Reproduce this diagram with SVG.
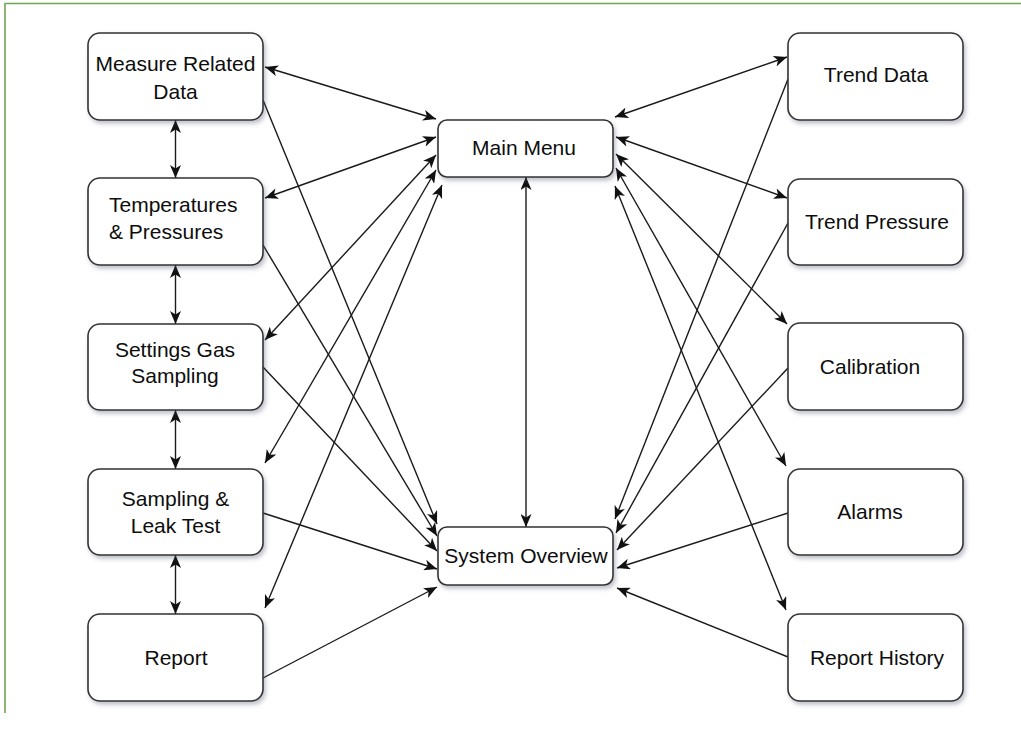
<svg xmlns="http://www.w3.org/2000/svg" width="1021" height="731" viewBox="0 0 1021 731">
<style>
.box{fill:#fff;stroke:#333;stroke-width:1.6;filter:url(#sh)}
.t{font-family:"Liberation Sans",Arial,sans-serif;font-size:21px;fill:#0d0d0d}
.c{text-anchor:middle}
.ln{fill:none;stroke:#1a1a1a;stroke-width:1.4}
.dbl{marker-start:url(#ah);marker-end:url(#ah)}
.one{marker-end:url(#ah)}
</style>
<defs>
<filter id="sh" x="-10%" y="-10%" width="125%" height="130%">
<feDropShadow dx="2" dy="3" stdDeviation="2" flood-color="#4a4f6a" flood-opacity="0.35"/>
</filter>
<marker id="ah" markerUnits="userSpaceOnUse" markerWidth="14" markerHeight="11" refX="13" refY="5.5" orient="auto-start-reverse">
<path d="M0,0 L13,5.5 L0,11 L3.5,5.5 Z" fill="#111"/>
</marker>
</defs>
<rect width="1021" height="731" fill="#fff"/>
<path d="M5,713 V3.5 H1021" fill="none" stroke="#6fa84f" stroke-width="1.6"/>

<g id="connectors">
<line class="ln dbl" x1="175.5" y1="120" x2="175.5" y2="178"/>
<line class="ln dbl" x1="175.5" y1="265" x2="175.5" y2="324"/>
<line class="ln dbl" x1="175.5" y1="410" x2="175.5" y2="469"/>
<line class="ln dbl" x1="175.5" y1="555" x2="175.5" y2="614"/>
<line class="ln dbl" x1="526" y1="177" x2="526" y2="527"/>
<line class="ln dbl" x1="265" y1="67" x2="436" y2="119"/>
<line class="ln dbl" x1="265" y1="198" x2="436" y2="137"/>
<line class="ln dbl" x1="265" y1="340" x2="436" y2="155"/>
<line class="ln dbl" x1="265" y1="463" x2="436" y2="170"/>
<line class="ln dbl" x1="265" y1="608" x2="442" y2="185"/>
<line class="ln one" x1="263" y1="100" x2="437" y2="524"/>
<line class="ln one" x1="263" y1="245" x2="437" y2="536"/>
<line class="ln one" x1="263" y1="367" x2="437" y2="551"/>
<line class="ln one" x1="263" y1="513" x2="437" y2="569"/>
<line class="ln one" x1="263" y1="678" x2="437" y2="587"/>
<line class="ln dbl" x1="615" y1="117" x2="787" y2="57"/>
<line class="ln dbl" x1="616" y1="137" x2="787" y2="198"/>
<line class="ln dbl" x1="616" y1="154" x2="787" y2="324"/>
<line class="ln dbl" x1="616" y1="168" x2="786" y2="466"/>
<line class="ln dbl" x1="615" y1="186" x2="786" y2="610"/>
<line class="ln one" x1="788" y1="79" x2="615" y2="519"/>
<line class="ln one" x1="788" y1="223" x2="616" y2="533"/>
<line class="ln one" x1="788" y1="368" x2="617" y2="550"/>
<line class="ln one" x1="788" y1="513" x2="617" y2="568"/>
<line class="ln one" x1="788" y1="657" x2="617" y2="588"/>
</g>

<g id="measure-related-data">
<rect class="box" x="88" y="33" width="175" height="87" rx="12"/>
<text class="t c" x="175.5" y="71">Measure Related</text>
<text class="t c" x="175.5" y="99">Data</text>
</g>
<g id="temperatures-pressures">
<rect class="box" x="88" y="178" width="175" height="87" rx="12"/>
<text class="t" x="109" y="212">Temperatures</text>
<text class="t" x="109" y="239">&amp; Pressures</text>
</g>
<g id="settings-gas-sampling">
<rect class="box" x="88" y="324" width="175" height="86" rx="12"/>
<text class="t c" x="175" y="357">Settings Gas</text>
<text class="t c" x="175" y="383">Sampling</text>
</g>
<g id="sampling-leak-test">
<rect class="box" x="88" y="469" width="175" height="86" rx="12"/>
<text class="t c" x="175.5" y="506">Sampling &amp;</text>
<text class="t c" x="175.5" y="533">Leak Test</text>
</g>
<g id="report">
<rect class="box" x="88" y="614" width="175" height="87" rx="12"/>
<text class="t c" x="176" y="665">Report</text>
</g>
<g id="main-menu">
<rect class="box" x="438" y="120" width="175" height="57" rx="9"/>
<text class="t c" x="524" y="155">Main Menu</text>
</g>
<g id="system-overview">
<rect class="box" x="438" y="527" width="175" height="58" rx="9"/>
<text class="t c" x="526" y="563">System Overview</text>
</g>
<g id="trend-data">
<rect class="box" x="788" y="33" width="175" height="87" rx="12"/>
<text class="t c" x="876" y="82">Trend Data</text>
</g>
<g id="trend-pressure">
<rect class="box" x="788" y="179" width="175" height="86" rx="12"/>
<text class="t c" x="877" y="229">Trend Pressure</text>
</g>
<g id="calibration">
<rect class="box" x="788" y="323" width="175" height="87" rx="12"/>
<text class="t c" x="870" y="374">Calibration</text>
</g>
<g id="alarms">
<rect class="box" x="788" y="469" width="175" height="86" rx="12"/>
<text class="t c" x="870" y="519">Alarms</text>
</g>
<g id="report-history">
<rect class="box" x="788" y="614" width="175" height="87" rx="12"/>
<text class="t c" x="877" y="665">Report History</text>
</g>
</svg>
